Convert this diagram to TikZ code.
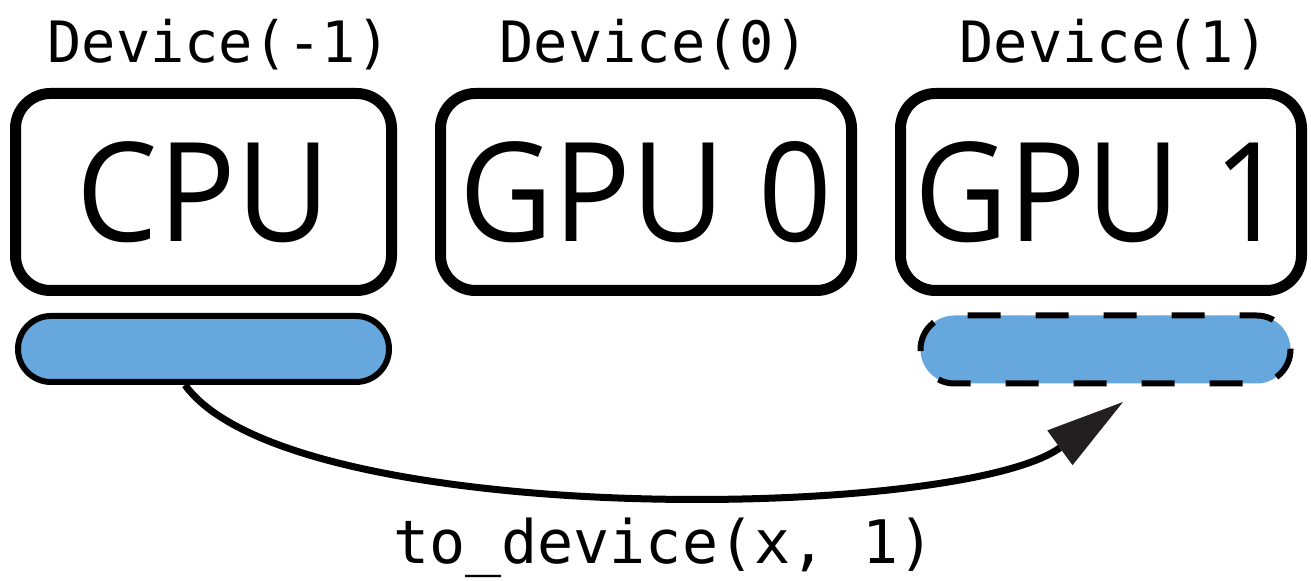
\documentclass[tikz,border=0pt]{standalone}
\usepackage{fontspec}
\usepackage{graphicx}
\setmainfont{Open Sans}
\setmonofont{DejaVu Sans Mono}
\usetikzlibrary{arrows.meta}
\definecolor{pillblue}{RGB}{102,168,221}
\definecolor{arrowgray}{RGB}{35,31,32}
\newcommand\narrowtext[1]{\scalebox{0.935}[1]{#1}}
\begin{document}
\begin{tikzpicture}[x=0.5pt,y=-0.5pt,
  devbox/.style={draw=black, line width=5.5pt, rounded corners=17.5pt, fill=white,
    minimum height=98.5pt, inner sep=0pt, font=\fontsize{69}{69}\selectfont},
  pill/.style={fill=pillblue, line width=3pt, rounded corners=16.5pt, minimum height=33pt, inner sep=0pt},
  devlabel/.style={anchor=base, inner sep=0pt, font=\ttfamily\fontsize{28.5}{28.5}\selectfont},
  calllabel/.style={anchor=base, inner sep=0pt, font=\ttfamily\fontsize{30}{30}\selectfont},
  move/.style={draw=black, line width=3.5pt, -{Triangle[length=39pt,width=21.5pt,line width=0pt,color=arrowgray]}}
]
\useasboundingbox (0,0) rectangle (1311,581);
\fill[white] (0,0) rectangle (1311,581);
% boxes
\node[devbox, minimum width=188pt] (cpu) at (203.5,192) {\narrowtext{CPU}};
\node[devbox, minimum width=205.5pt] (gpu0) at (646,192) {\narrowtext{GPU 0}};
\node[devbox, minimum width=200.5pt] (gpu1) at (1101,192) {\narrowtext{GPU 1}};
% labels
\node[devlabel] (l1) at (219,63) {Device(-1)};
\node[devlabel] (l2) at (654,63) {Device(0)};
\node[devlabel] (l3) at (1114,63) {Device(1)};
% pills
\node[pill, draw=black, minimum width=185.5pt] (cpupill) at (203.5,349) {};
\node[pill, draw=black, dash pattern=on 16.5pt off 17.5pt, dash phase=8pt, minimum width=185pt, minimum height=34pt, rounded corners=17pt] (gpupill) at (1105.5,349.5) {};
% arrow
\coordinate (start) at ([xshift=-9.25pt]cpupill.south);
\coordinate (tip) at ([xshift=8.75pt,yshift=-7.75pt]gpupill.south);
\draw[move] (start) .. controls (290,530) and (959,521) .. (tip);
\node[calllabel] (call) at (664,564) {to\_device(x, 1)};
\end{tikzpicture}
\end{document}
